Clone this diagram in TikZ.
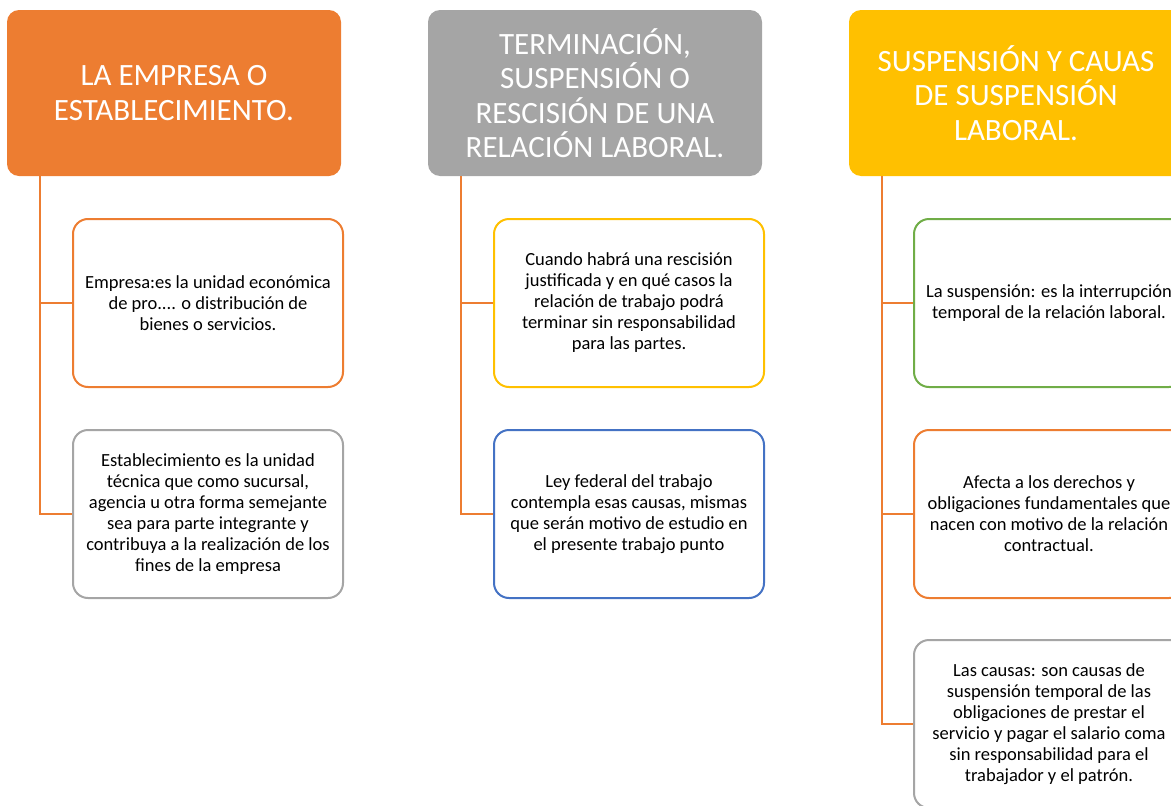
\documentclass[tikz,border=0pt]{standalone}
\usepackage{fontspec}
\setmainfont{Carlito}
\usepackage{tikz}
\definecolor{orangeA}{HTML}{ED7D31}
\definecolor{grayA}{HTML}{A5A5A5}
\definecolor{goldA}{HTML}{FFC000}
\definecolor{blueA}{HTML}{4472C4}
\definecolor{greenA}{HTML}{70AD47}
\def\pagebox{(0,0) rectangle (1171,806)}
\begin{document}
\begin{tikzpicture}[x=1pt,y=-1pt,
	headbox/.style={fill=#1, rounded corners=12pt, minimum width=334pt, minimum height=166pt,
		inner sep=0pt, text=white, align=center, font=\fontsize{31}{34.5}\selectfont},
	leafbox/.style={draw=#1, line width=2pt, fill=white, rounded corners=15pt, minimum width=270pt,
		minimum height=168pt, inner sep=0pt, align=center, font=\fontsize{18.5}{21}\selectfont},
	trunk/.style={draw=orangeA, line width=2pt}]
\useasboundingbox \pagebox;
\clip \pagebox;
% headers
\node[headbox=orangeA] (hA) at (174,93) {LA EMPRESA O\\ESTABLECIMIENTO.};
\node[headbox=grayA] (hB) at (595,93) {TERMINACIÓN,\\SUSPENSIÓN O\\RESCISIÓN DE UNA\\RELACIÓN LABORAL.};
\node[headbox=goldA] (hC) at (1016,93) {SUSPENSIÓN Y CAUAS\\DE SUSPENSIÓN\\LABORAL.};
% first column
\node[leafbox=orangeA] (aA) at (208,303) {Empresa:es la unidad económica\\de pro.... o distribución de\\bienes o servicios.};
\node[leafbox=grayA] (aB) at (208,514) {Establecimiento es la unidad\\técnica que como sucursal,\\agencia u otra forma semejante\\sea para parte integrante y\\contribuya a la realización de los\\fines de la empresa};
% second column
\node[leafbox=goldA] (bA) at (629,303) {Cuando habrá una rescisión\\justificada y en qué casos la\\relación de trabajo podrá\\terminar sin responsabilidad\\para las partes.};
\node[leafbox=blueA] (bB) at (629,514) {Ley federal del trabajo\\contempla esas causas, mismas\\que serán motivo de estudio en\\el presente trabajo punto};
% third column
\node[leafbox=greenA] (cA) at (1049,303) {La suspensión: es la interrupción\\temporal de la relación laboral.};
\node[leafbox=orangeA] (cB) at (1049,514) {Afecta a los derechos y\\obligaciones fundamentales que\\nacen con motivo de la relación\\contractual.};
\node[leafbox=grayA] (cC) at (1049,724) {Las causas: son causas de\\suspensión temporal de las\\obligaciones de prestar el\\servicio y pagar el salario coma\\sin responsabilidad para el\\trabajador y el patrón.};
% connectors
\foreach \h/\leaves in {hA/{aA,aB}, hB/{bA,bB}, hC/{cA,cB,cC}}
	\foreach \l in \leaves
		\draw[trunk] ([xshift=33pt]\h.south west) |- (\l.west);
\end{tikzpicture}
\end{document}
